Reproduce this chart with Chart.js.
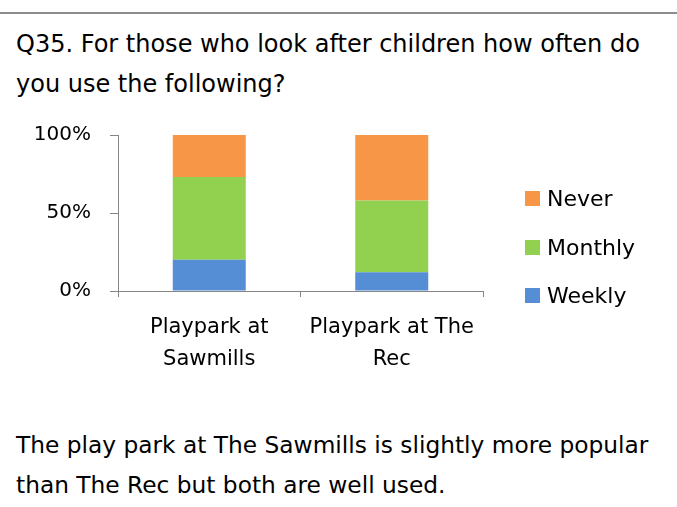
<!DOCTYPE html>
<html>
<head>
<meta charset="utf-8">
<script src="https://cdn.jsdelivr.net/npm/chart.js@4/dist/chart.umd.min.js"></script>
<style>
  body { margin: 0; width: 677px; height: 507px; background: #fff; position: relative; overflow: hidden; font-family: "DejaVu Sans", sans-serif; color: #000; }
  .rule { position: absolute; left: 0; top: 12px; width: 677px; height: 2px; background: #8c8c8c; }
  .text { position: absolute; left: 16px; line-height: 40px; white-space: nowrap; }
  #title { top: 24px; font-size: 24px; }
  #note { top: 425px; font-size: 23.3px; }
  #chartBox { position: absolute; left: 0; top: 100px; width: 677px; height: 290px; }
  #legend { position: absolute; left: 525px; top: 0; }
  .item { position: absolute; left: 0; white-space: nowrap; font-size: 22px; line-height: 26px; }
  .item span.box { position: absolute; left: 0; top: 5px; width: 15px; height: 15px; }
  .item span.lbl { position: absolute; left: 22px; top: 0; }
</style>
</head>
<body>
<div class="rule"></div>
<div id="title" class="text">Q35. For those who look after children how often do<br>you use the following?</div>
<div id="chartBox"><canvas id="chart" width="677" height="290"></canvas></div>
<div id="legend"></div>
<div id="note" class="text">The play park at The Sawmills is slightly more popular<br>than The Rec but both are well used.</div>

<script>
// data (percent of respondents)
const categories = [["Playpark at", "Sawmills"], ["Playpark at The", "Rec"]];
const weekly = [20, 12];
const monthly = [53, 46];
const never = [27, 42];
const yTicks = [0, 50, 100];

const AXIS = "#868686";

const chart = new Chart(document.getElementById("chart"), {
  type: "bar",
  data: {
    labels: categories,
    datasets: [
      { label: "Weekly", data: weekly, backgroundColor: "#558ED5" },
      { label: "Monthly", data: monthly, backgroundColor: "#92D050" },
      { label: "Never", data: never, backgroundColor: "#F79646" }
    ]
  },
  options: {
    responsive: false,
    animation: false,
    layout: { padding: { left: 34, right: 194, top: 35, bottom: 17 } },
    datasets: { bar: { barPercentage: 0.4, categoryPercentage: 1.0 } },
    plugins: { legend: { display: false }, tooltip: { enabled: false } },
    scales: {
      x: {
        stacked: true,
        afterFit: s => { s.height = 82; },
        border: { color: AXIS, width: 1 },
        grid: { offset: true, drawOnChartArea: false, tickLength: 6, color: AXIS },
        ticks: {
          color: "#000",
          padding: 15,
          maxRotation: 0,
          font: { family: "DejaVu Sans", size: 21, lineHeight: "32px" }
        }
      },
      y: {
        stacked: true,
        min: 0,
        max: 100,
        afterFit: s => { s.width = 84; },
        afterBuildTicks: s => { s.ticks = yTicks.map(v => ({ value: v })); },
        border: { color: AXIS, width: 1 },
        grid: { drawOnChartArea: false, tickLength: 8, color: AXIS },
        ticks: {
          color: "#000",
          padding: 19,
          font: { family: "DejaVu Sans", size: 20 },
          callback: v => v + "%"
        }
      }
    }
  }
});

// legend as real text, top item = last dataset (stack order)
const legend = document.getElementById("legend");
const centers = [199, 247.5, 295.5];
chart.data.datasets.slice().reverse().forEach((ds, i) => {
  const el = document.createElement("div");
  el.className = "item";
  el.style.top = (centers[i] - 13) + "px";
  el.innerHTML = '<span class="box" style="background:' + ds.backgroundColor + '"></span><span class="lbl">' + ds.label + "</span>";
  legend.appendChild(el);
});
</script>
</body>
</html>
